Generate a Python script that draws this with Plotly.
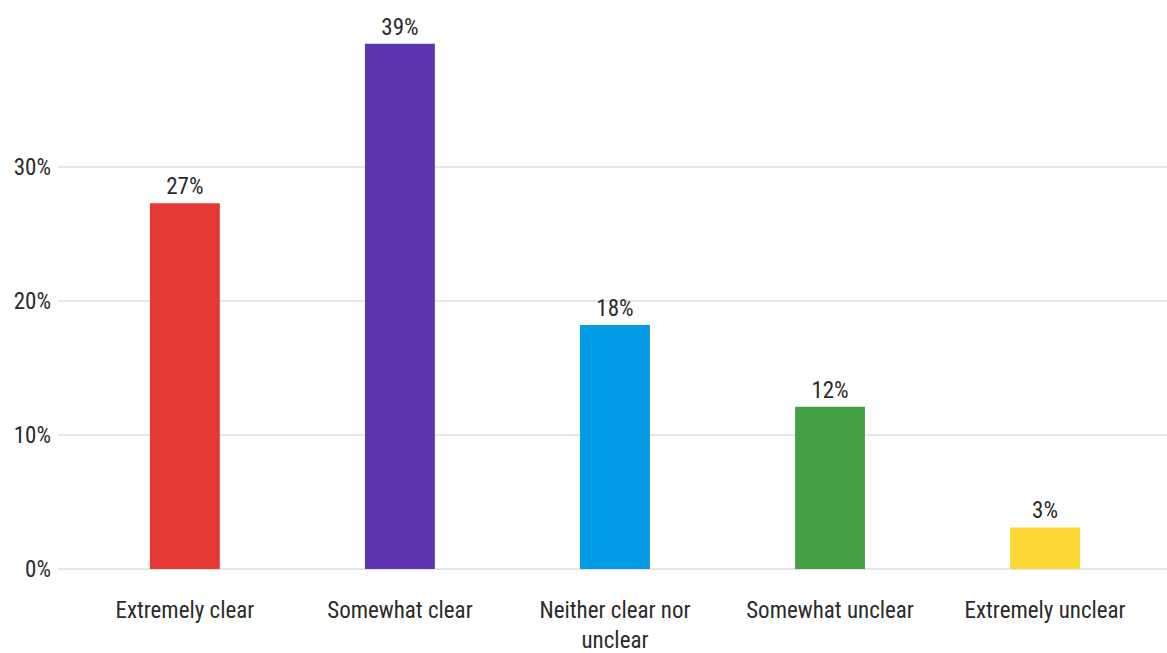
import plotly.graph_objects as go

# Survey responses (share of respondents, %)
categories = ["Extremely clear", "Somewhat clear", "Neither clear nor<br>unclear",
              "Somewhat unclear", "Extremely unclear"]
shares = [27.3, 39.2, 18.2, 12.1, 3.1]
bar_colors = ["#E53935", "#5E35B1", "#039BE5", "#43A047", "#FDD835"]
y_ticks = [0, 10, 20, 30]
y_tick_labels = ["0%", "10%", "20%", "30%"]

FONT = "Liberation Sans Narrow, Roboto Condensed, Arial Narrow, Liberation Sans, Arial, sans-serif"
TEXT = "#2b2b2b"

fig = go.Figure(
    go.Bar(
        x=categories,
        y=shares,
        marker=dict(color=bar_colors, line=dict(width=0)),
        text=shares,
        texttemplate="%{y:.0f}%",
        textposition="outside",
        cliponaxis=False,
        textfont=dict(family=FONT, size=23, color=TEXT),
        width=0.325,
    )
)

fig.update_layout(
    width=1167,
    height=653,
    margin=dict(l=58, r=0, t=0, b=84),
    paper_bgcolor="white",
    plot_bgcolor="white",
    showlegend=False,
    font=dict(family=FONT, size=23, color=TEXT),
    xaxis=dict(
        range=[-0.59, 4.567],
        showgrid=False,
        zeroline=False,
        showline=False,
        ticks="",
        ticklabelstandoff=25,
        tickfont=dict(family=FONT, size=23, color=TEXT),
    ),
    yaxis=dict(
        range=[0, 42.46],
        tickvals=y_ticks,
        ticktext=y_tick_labels,
        showgrid=True,
        gridcolor="#E6E6E6",
        gridwidth=2,
        zeroline=True,
        zerolinecolor="#E6E6E6",
        zerolinewidth=2,
        showline=False,
        ticks="",
        ticklabelstandoff=6,
        tickfont=dict(family=FONT, size=23, color=TEXT),
    ),
)

fig.write_html("out.html")
